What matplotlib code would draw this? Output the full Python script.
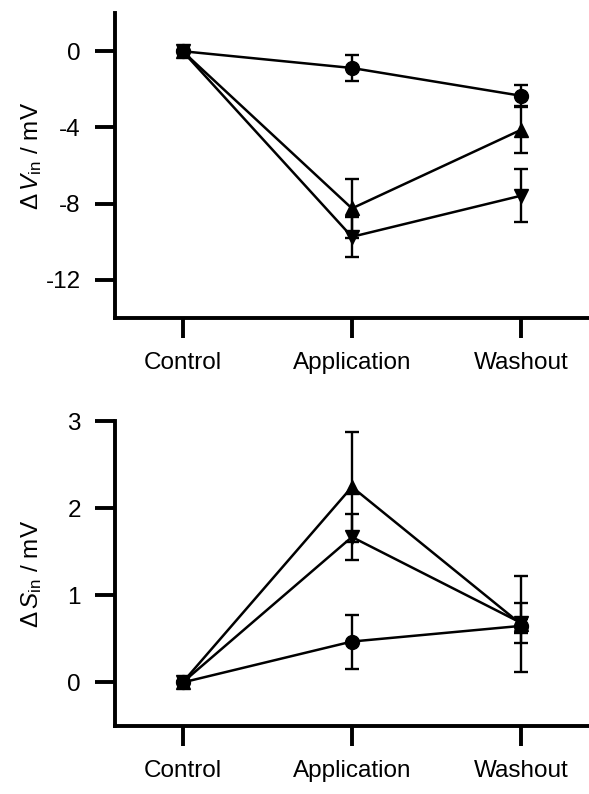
import matplotlib
matplotlib.use('Agg')
import matplotlib.pyplot as plt

plt.rcParams['font.family'] = ['Liberation Sans', 'DejaVu Sans']
plt.rcParams['mathtext.fontset'] = 'custom'
plt.rcParams['mathtext.rm'] = 'Liberation Sans'
plt.rcParams['mathtext.it'] = 'Liberation Sans:italic'

# Conditions along the x axis
conditions = ['Control', 'Application', 'Washout']

# Top panel: change of V_in (mV), mean and error
v_circle = [0, -0.88, -2.34]
v_circle_err = [0, 0.67, 0.58]
v_up = [0, -8.25, -4.12]
v_up_err = [0, 1.57, 1.23]
v_down = [0, -9.74, -7.58]
v_down_err = [0, 1.05, 1.38]

# Bottom panel: change of S_in (mV), mean and error
s_circle = [0, 0.47, 0.65]
s_circle_err = [0, 0.31, 0.08]
s_up = [0, 2.245, 0.667]
s_up_err = [0, 0.63, 0.55]
s_down = [0, 1.67, 0.683]
s_down_err = [0, 0.26, 0.23]

v_ticks = [0, -4, -8, -12]
s_ticks = [0, 1, 2, 3]


def draw_panel(ax, series, yticks, ylim, ylabel, label_y):
    x = range(len(conditions))
    for vals, errs, marker in series:
        ax.errorbar(x, vals, yerr=errs, fmt='-', marker=marker, color='black',
                    markersize=10, linewidth=1.8, elinewidth=1.7,
                    capsize=5, capthick=1.7, clip_on=False)
    ax.set_xlim(-0.4, 2.4)
    ax.set_ylim(*ylim)
    ax.set_xticks(list(x))
    ax.set_xticklabels(conditions)
    ax.set_yticks(yticks)
    ax.set_yticklabels([str(t) for t in yticks])
    ax.spines['top'].set_visible(False)
    ax.spines['right'].set_visible(False)
    for side in ('left', 'bottom'):
        ax.spines[side].set_linewidth(2.8)
    ax.tick_params(axis='both', direction='out', length=14.5, width=2.8,
                   labelsize=17.5, pad=10)
    ax.set_ylabel(ylabel, fontsize=17.5)
    ax.yaxis.set_label_coords(-0.15, label_y)


fig = plt.figure(figsize=(5.89, 7.94), dpi=100)
ax_top = fig.add_axes([0.195, 0.5995, 0.805, 0.384])
ax_bot = fig.add_axes([0.195, 0.0856, 0.805, 0.384])

draw_panel(ax_top,
           [(v_circle, v_circle_err, 'o'),
            (v_up, v_up_err, '^'),
            (v_down, v_down_err, 'v')],
           v_ticks, (-14, 2), r'$\Delta\,V_{\mathrm{in}}$ / mV', 0.53)

draw_panel(ax_bot,
           [(s_circle, s_circle_err, 'o'),
            (s_up, s_up_err, '^'),
            (s_down, s_down_err, 'v')],
           s_ticks, (-0.5, 3), r'$\Delta\,S_{\mathrm{in}}$ / mV', 0.5)

fig.savefig('out.png', dpi=100)
